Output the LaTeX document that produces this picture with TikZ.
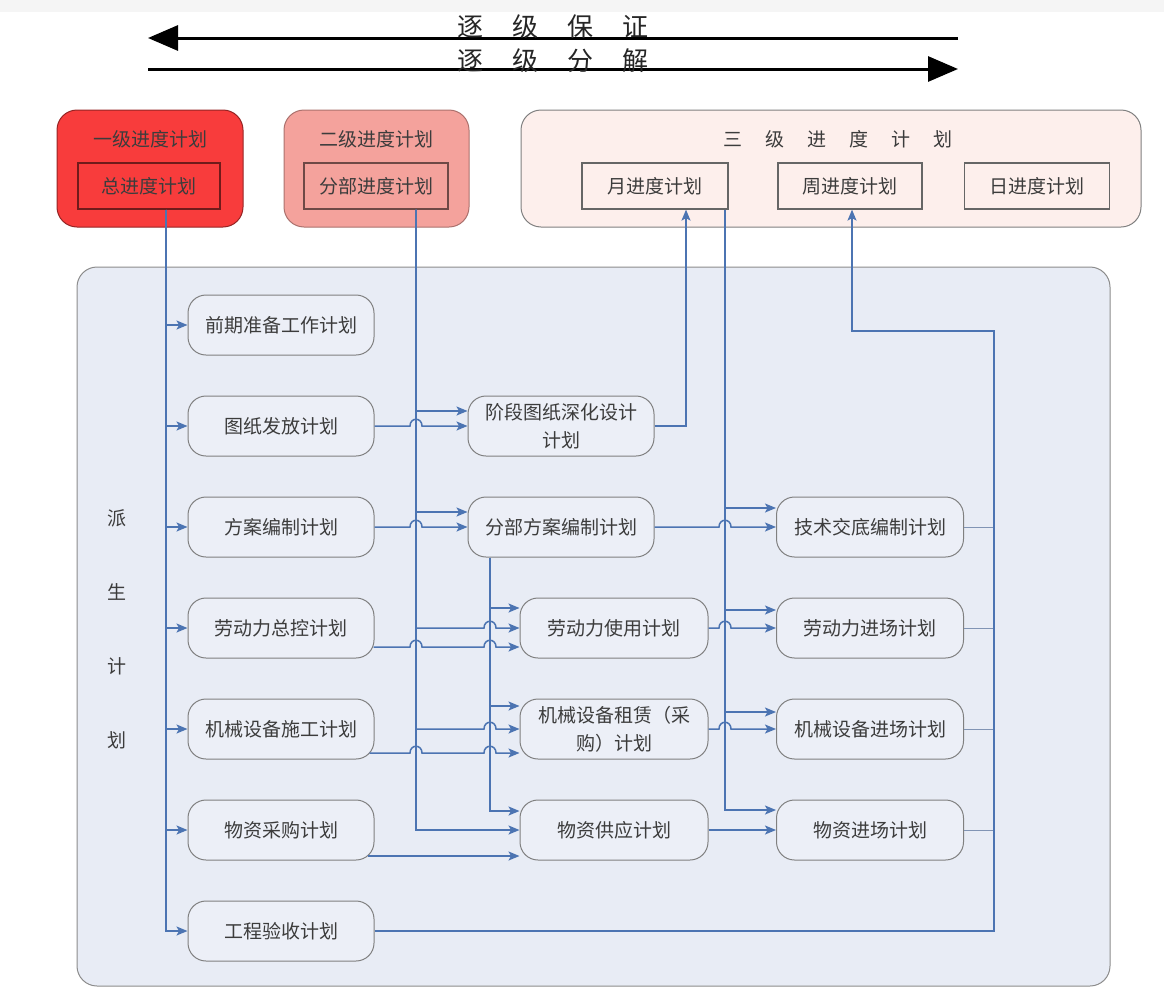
\documentclass[tikz,border=0pt]{standalone}
\usepackage{fontspec}
\setmainfont{Noto Sans CJK SC}
\usetikzlibrary{arrows.meta}
\definecolor{linkblue}{HTML}{4C74B2}
\definecolor{tailblue}{HTML}{8194B4}
\definecolor{boxgray}{HTML}{808080}
\definecolor{panel}{HTML}{E8ECF5}
\definecolor{nodefill}{HTML}{ECEFF7}
\definecolor{redone}{HTML}{F83C3C}
\definecolor{redtwo}{HTML}{F4A29C}
\definecolor{redthree}{HTML}{FDEFEC}
\definecolor{txt}{HTML}{3C3C3C}
% small bump where a line crosses a vertical trunk
\newcommand{\hp}[2]{-- (#1-6,#2) .. controls (#1-6,#2-9) and (#1+6,#2-9) .. (#1+6,#2)}

\begin{document}
\begin{tikzpicture}[x=1pt, y=-1pt,
	plan/.style={draw=boxgray, fill=nodefill, rounded corners=18pt, line width=1pt, minimum width=186pt, minimum height=60pt, inner sep=0pt, align=center, text=txt, font=\fontsize{19pt}{28pt}\selectfont},
	sched/.style={draw=#1, line width=1.2pt, minimum width=144pt, minimum height=46pt, inner sep=0pt, text=txt, font=\fontsize{19pt}{24pt}\selectfont},
	link/.style={draw=linkblue, line width=1.5pt, -{Stealth[length=11pt,width=9pt,inset=2.5pt]}},
	tail/.style={draw=tailblue, line width=1pt},
	bigarrow/.style={line width=3pt, -{Triangle[length=30pt,width=25pt]}}]
	\useasboundingbox (0,0) rectangle (1164,988);
	\fill[black!4] (0,0) rectangle (1164,12);

	\draw[bigarrow] (958,38) -- (148,38);
	\draw[bigarrow] (148,69) -- (958,69);
	\node[font=\fontsize{26pt}{30pt}\selectfont, text=black!85] (baozheng) at (553,27) {逐\hspace{29pt}级\hspace{29pt}保\hspace{29pt}证};
	\node[font=\fontsize{26pt}{30pt}\selectfont, text=black!85] (fenjie) at (553,61) {逐\hspace{29pt}级\hspace{29pt}分\hspace{29pt}解};

	% three levels of schedule
	\draw[draw=redone!60!black, fill=redone, rounded corners=20pt, line width=1pt] (57,110) rectangle (243,227);
	\draw[draw=redtwo!70!black, fill=redtwo, rounded corners=20pt, line width=1pt] (284,110) rectangle (469,227);
	\draw[draw=boxgray, fill=redthree, rounded corners=20pt, line width=1pt] (521,110) rectangle (1141,227);
	\node[text=txt, font=\fontsize{19pt}{24pt}\selectfont] (yiji) at (150,139) {一级进度计划};
	\node[text=txt, font=\fontsize{19pt}{24pt}\selectfont] (erji) at (376,139) {二级进度计划};
	\node[text=txt, font=\fontsize{19pt}{24pt}\selectfont] (sanji) at (838,139) {三\hspace{23pt}级\hspace{23pt}进\hspace{23pt}度\hspace{23pt}计\hspace{23pt}划};
	\node[sched=redone!45!black, minimum width=142pt] (zong) at (149,186) {总进度计划};
	\node[sched=redtwo!45!black] (fenbujd) at (376,186) {分部进度计划};
	\node[sched=black!60, minimum width=146pt] (yue) at (655,186) {月进度计划};
	\node[sched=black!60] (zhou) at (850,186) {周进度计划};
	\node[sched=black!60, minimum width=145pt] (ri) at (1037,186) {日进度计划};

	% derived plans
	\draw[draw=black!45, fill=panel, rounded corners=20pt, line width=1pt] (77,267) rectangle (1110,986);
	\node[text=txt, align=center, font=\fontsize{19pt}{74pt}\selectfont] (paisheng) at (117,629) {派\\生\\计\\划};

	\node[plan] (qianqi) at (281,325) {前期准备工作计划};
	\node[plan] (tuzhi) at (281,426) {图纸发放计划};
	\node[plan] (fangan) at (281,527) {方案编制计划};
	\node[plan] (zongkong) at (281,628) {劳动力总控计划};
	\node[plan] (jixie) at (281,729) {机械设备施工计划};
	\node[plan] (caigou) at (281,830) {物资采购计划};
	\node[plan] (yanshou) at (281,931) {工程验收计划};

	\node[plan] (jieduan) at (561,426) {阶段图纸深化设计\\计划};
	\node[plan] (fangan2) at (561,527) {分部方案编制计划};
	\node[plan, minimum width=188pt] (shiyong) at (614,628) {劳动力使用计划};
	\node[plan, minimum width=188pt] (zulin) at (614,729) {机械设备租赁（采\\购）计划};
	\node[plan, minimum width=188pt] (gongying) at (614,830) {物资供应计划};

	\node[plan, minimum width=187pt] (jishu) at (870,527) {技术交底编制计划};
	\node[plan, minimum width=187pt] (jinchang) at (870,628) {劳动力进场计划};
	\node[plan, minimum width=187pt] (jxjc) at (870,729) {机械设备进场计划};
	\node[plan, minimum width=187pt] (wzjc) at (870,830) {物资进场计划};

	% trunk from the master schedule
	\foreach \n in {qianqi, tuzhi, fangan, zongkong, jixie, caigou, yanshou}
		\draw[link] ([xshift=17pt]zong.south) |- (\n.west);

	% trunk from the sub-project schedule
	\draw[link] ([xshift=40pt]fenbujd.south) |- ([yshift=15pt]jieduan.west);
	\draw[link] ([xshift=40pt]fenbujd.south) |- ([yshift=15pt]fangan2.west);
	\draw[link] ([xshift=40pt]fenbujd.south) -- (416,628) \hp{490}{628} -- (shiyong.west);
	\draw[link] ([xshift=40pt]fenbujd.south) -- (416,729) \hp{490}{729} -- (zulin.west);
	\draw[link] ([xshift=40pt]fenbujd.south) |- (gongying.west);

	\draw[link] ([xshift=-71pt]fangan2.south) |- ([yshift=20pt]shiyong.west);
	\draw[link] ([xshift=-71pt]fangan2.south) |- ([yshift=23pt]zulin.west);
	\draw[link] ([xshift=-71pt]fangan2.south) |- ([yshift=19pt]gongying.west);

	\draw[link] (tuzhi.east) \hp{416}{426} -- (jieduan.west);
	\draw[link] (fangan.east) \hp{416}{527} -- (fangan2.west);
	\draw[link] ([xshift=-1pt,yshift=-19pt]zongkong.east) \hp{416}{647} \hp{490}{647} -- ([yshift=-19pt]shiyong.west);
	\draw[link] ([xshift=-5pt,yshift=-24pt]jixie.east) \hp{416}{753} \hp{490}{753} -- ([yshift=-24pt]zulin.west);
	\draw[link] ([xshift=-7pt,yshift=-26pt]caigou.east) -- ([yshift=-26pt]gongying.west);

	% monthly schedule
	\draw[link] (jieduan.east) -| ([xshift=31pt]yue.south);
	\draw[link] ([xshift=70pt]yue.south) |- ([yshift=19pt]jishu.west);
	\draw[link] ([xshift=70pt]yue.south) |- ([yshift=18pt]jinchang.west);
	\draw[link] ([xshift=70pt]yue.south) |- ([yshift=17pt]jxjc.west);
	\draw[link] ([xshift=70pt]yue.south) |- ([yshift=20pt]wzjc.west);

	\draw[link] (fangan2.east) \hp{725}{527} -- (jishu.west);
	\draw[link] (shiyong.east) \hp{725}{628} -- (jinchang.west);
	\draw[link] (zulin.east) \hp{725}{729} -- (jxjc.west);
	\draw[link] (gongying.east) -- (wzjc.west);

	% weekly schedule
	\foreach \n in {jishu, jinchang, jxjc, wzjc}
		\draw[tail] (\n.east) -- ++(30,0);
	\draw[link] (yanshou.east) -| (994,331) -| ([xshift=2pt]zhou.south);
\end{tikzpicture}
\end{document}
